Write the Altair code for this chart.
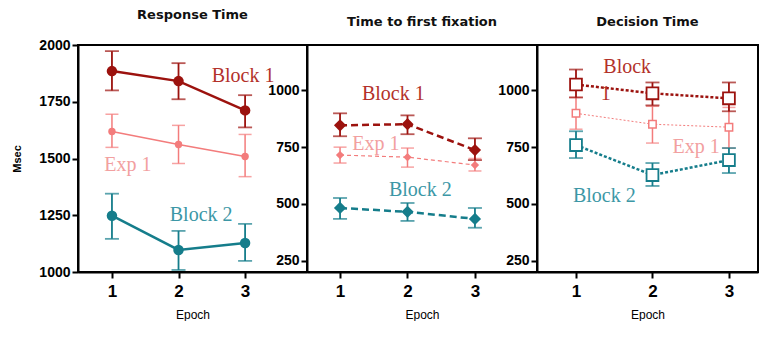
import altair as alt
import pandas as pd

EPOCHS = [1, 2, 3]
SERIES = ["Exp 1", "Block 2", "Block 1"]  # drawing order

# Response Time
RT_MEAN = {"Block 1": [1885, 1841, 1712], "Exp 1": [1619, 1562, 1509], "Block 2": [1248, 1097, 1128]}
RT_LO = {"Block 1": [1800, 1761, 1637], "Exp 1": [1549, 1478, 1420], "Block 2": [1146, 1009, 1049]}
RT_HI = {"Block 1": [1973, 1920, 1779], "Exp 1": [1695, 1646, 1606], "Block 2": [1345, 1181, 1212]}

# Time to first fixation
TF_MEAN = {"Block 1": [846, 851, 737], "Exp 1": [715, 706, 671], "Block 2": [482, 465, 434]}
TF_LO = {"Block 1": [798, 807, 693], "Exp 1": [680, 662, 645], "Block 2": [434, 425, 395]}
TF_HI = {"Block 1": [899, 890, 789], "Exp 1": [750, 746, 700], "Block 2": [526, 504, 482]}

# Decision Time
DT_MEAN = {"Block 1": [1026, 987, 965], "Exp 1": [899, 851, 838], "Block 2": [759, 627, 693]}
DT_LO = {"Block 1": [969, 934, 908], "Exp 1": [829, 768, 746], "Block 2": [702, 579, 636]}
DT_HI = {"Block 1": [1092, 1035, 1035], "Exp 1": [969, 930, 925], "Block 2": [820, 680, 746]}

# in-plot series labels (data coordinates)
RT_LABELS = {"text": ["Block 1", "Exp 1", "Block 2"], "x": [2.97, 1.24, 2.34], "y": [1863, 1473, 1252],
             "series": ["Block 1", "Exp 1", "Block 2"]}
TF_LABELS = {"text": ["Block 1", "Exp 1", "Block 2"], "x": [1.79, 1.53, 2.19], "y": [982, 763, 561],
             "series": ["Block 1", "Exp 1", "Block 2"]}
DT_LABELS = {"text": ["Block", "1", "Exp 1", "Block 2"], "x": [1.67, 1.39, 2.57, 1.37], "y": [1101, 982, 750, 535],
             "series": ["Block 1", "Block 1", "Exp 1", "Block 2"]}

LINE_COLORS = {"Block 1": "#9c120e", "Exp 1": "#f37c7c", "Block 2": "#157d8b"}
LABEL_COLORS = {"Block 1": "#b3312a", "Exp 1": "#f2a0a0", "Block 2": "#3c97a6"}

SANS = "Liberation Sans"
TITLE_FONT = "DejaVu Sans"
SERIF = "Liberation Serif"


def make_df(mean, lo, hi, s):
    return pd.DataFrame({"epoch": EPOCHS, "mean": mean[s], "lo": lo[s], "hi": hi[s]})


def panel(title, mean, lo, hi, labels, ydom, yvals, ytitle, xdom, width, style):
    xscale = alt.Scale(domain=xdom, nice=False, zero=False)
    xaxis = alt.Axis(values=EPOCHS, format="d", title="Epoch", labelFontSize=17,
                     labelFontWeight="bold", tickSize=6, labelPadding=5, grid=False,
                     titleFontSize=12, titleFontWeight="normal", titlePadding=10)
    xenc = alt.X("epoch:Q", scale=xscale, axis=xaxis)
    yscale = alt.Scale(domain=ydom, nice=False, zero=False)
    yaxis = alt.Axis(values=yvals, format="d", title=ytitle, labelFontSize=14, labelFontWeight="bold",
                     tickSize=6, labelPadding=2, titleFontSize=11, titleFontWeight="bold",
                     titlePadding=16, grid=False)
    layers = []
    for s in SERIES:
        st = style[s]
        d = make_df(mean, lo, hi, s)
        base = alt.Chart(d)
        c = LINE_COLORS[s]
        line_kw = dict(color=c, strokeWidth=st["lw"])
        if st.get("dash"):
            line_kw["strokeDash"] = st["dash"]
        layers.append(base.mark_line(**line_kw).encode(
            x=xenc, y=alt.Y("mean:Q", scale=yscale, axis=yaxis)))
        layers.append(base.mark_errorbar(ticks=True, color=c, thickness=st["ebw"], size=st["cap"]).encode(
            x=xenc, y=alt.Y("lo:Q", scale=yscale, axis=yaxis), y2="hi:Q"))
        if st["shape"] == "square":
            pt = base.mark_point(shape="square", size=st["size"], fill="white", stroke=c,
                                 strokeWidth=st["sw"], opacity=1, filled=False)
        else:
            pt = base.mark_point(shape=st["shape"], size=st["size"], color=c, filled=True, opacity=1)
        layers.append(pt.encode(x=xenc, y=alt.Y("mean:Q", scale=yscale, axis=yaxis)))
    ldf = pd.DataFrame(labels)
    ldf["color"] = [LABEL_COLORS[s] for s in ldf["series"]]
    layers.append(alt.Chart(ldf).mark_text(font=SERIF, fontSize=20, align="center", baseline="middle").encode(
        x=alt.X("x:Q", scale=xscale, axis=xaxis), y=alt.Y("y:Q", scale=yscale, axis=yaxis),
        text="text:N", color=alt.Color("color:N", scale=None)))
    return alt.layer(*layers).properties(
        width=width, height=227,
        title=alt.TitleParams(title, fontSize=13, fontWeight="bold", font=TITLE_FONT, offset=16,
                              anchor="middle", color="#111111"))


solid = {
    "Block 1": dict(lw=2.5, ebw=1.8, cap=14, shape="circle", size=110),
    "Exp 1": dict(lw=1.5, ebw=1.5, cap=13, shape="circle", size=55),
    "Block 2": dict(lw=2.5, ebw=1.8, cap=14, shape="circle", size=110),
}
dashed = {
    "Block 1": dict(lw=2.5, ebw=1.8, cap=14, shape="diamond", size=150, dash=[7, 4]),
    "Exp 1": dict(lw=1.2, ebw=1.5, cap=13, shape="diamond", size=70, dash=[4, 3]),
    "Block 2": dict(lw=2.5, ebw=1.8, cap=14, shape="diamond", size=150, dash=[7, 4]),
}
dotted = {
    "Block 1": dict(lw=2.5, ebw=1.8, cap=14, shape="square", size=140, sw=1.8, dash=[3, 2]),
    "Exp 1": dict(lw=1.0, ebw=1.5, cap=13, shape="square", size=55, sw=1.5, dash=[2, 2]),
    "Block 2": dict(lw=2.5, ebw=1.8, cap=14, shape="square", size=140, sw=1.8, dash=[3, 2]),
}

p1 = panel("Response Time", RT_MEAN, RT_LO, RT_HI, RT_LABELS, [1000, 2000],
           [1000, 1250, 1500, 1750, 2000], "Msec", [0.49, 3.93], 229, solid)
p2 = panel("Time to first fixation", TF_MEAN, TF_LO, TF_HI, TF_LABELS, [200, 1200],
           [250, 500, 750, 1000], "", [0.51, 3.92], 230, dashed)
p3 = panel("Decision Time", DT_MEAN, DT_LO, DT_HI, DT_LABELS, [200, 1200],
           [250, 500, 750, 1000], "", [0.49, 3.38], 221, dotted)

chart = alt.hconcat(p1, p2, p3, spacing=0, bounds="flush").properties(
    padding={"left": 10, "top": 8, "right": 0, "bottom": 0},
    background="white"
).configure_view(stroke="black", strokeWidth=2).configure_axis(
    domainColor="black", domainWidth=2, tickColor="black", tickWidth=2,
    labelColor="black", titleColor="black", grid=False, labelFont=SANS, titleFont=SANS
)

chart.save("out.html", embed_options={"renderer": "svg", "actions": False})
